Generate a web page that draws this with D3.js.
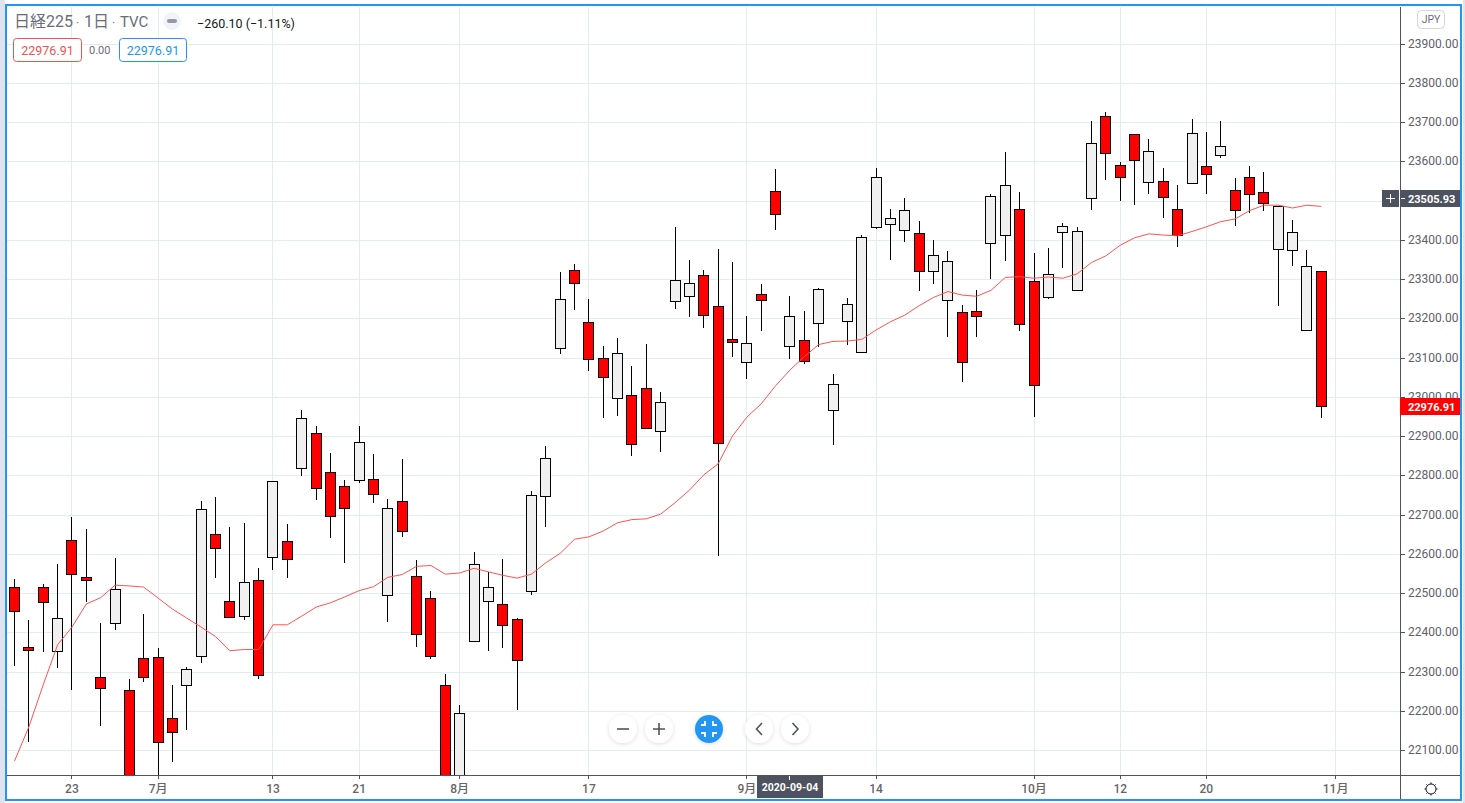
<!DOCTYPE html>
<html><head><meta charset="utf-8">
<script src="https://cdn.jsdelivr.net/npm/d3@7"></script>
<style>
html,body{margin:0;padding:0;background:#fff;overflow:hidden}
svg{display:block}
text{font-family:Roboto,"Noto Sans CJK JP",sans-serif}
</style></head><body>
<svg id="c" width="1465" height="803"></svg>
<script>
const opens=[22515,22362,22515,22351,22634,22540,22285,22423,22252,22334,
22336,22181,22265,22339,22650,22479,22441,22532,22591,22632,
22818,22907,22808,22772,22787,22790,22494,22734,22543,22487,
22265,22000,22377,22479,22471,22433,22504,22746,23124,23322,
23190,23098,22996,23004,23022,22912,23243,23256,23310,23231,
23147,23088,23261,23524,23129,23144,23187,22966,23192,23113,
23432,23440,23424,23417,23320,23246,23215,23218,23391,23412,
23478,23294,23254,23419,23271,23506,23715,23590,23669,23546,
23549,23478,23544,23587,23615,23526,23559,23521,23376,23373,
23169,23320];
const closes=[22453,22354,22476,22436,22548,22532,22257,22510,22000,22285,
22120,22145,22306,22713,22614,22438,22527,22290,22785,22586,
22945,22768,22696,22716,22884,22752,22716,22657,22395,22339,
22000,22194,22573,22515,22418,22329,22749,22843,23248,23289,
23096,23050,23111,22879,22920,22986,23297,23289,23208,22882,
23139,23136,23246,23465,23205,23090,23274,23032,23236,23406,
23559,23455,23475,23320,23361,23345,23088,23205,23511,23539,
23185,23029,23312,23434,23422,23646,23620,23559,23603,23626,
23508,23412,23671,23567,23638,23475,23516,23493,23485,23419,
23332,22976.91];
const highs=[22536,22431,22523,22574,22694,22663,22424,22589,22281,22447,
22360,22266,22312,22735,22745,22668,22678,22564,22785,22676,
22966,22926,22857,22788,22926,22854,22740,22841,22584,22505,
22294,22215,22605,22554,22587,22436,22760,22875,23318,23338,
23249,23129,23150,23078,23135,23012,23433,23349,23323,23377,
23343,23206,23287,23580,23257,23219,23277,23058,23252,23412,
23583,23478,23507,23448,23400,23372,23234,23272,23517,23624,
23522,23366,23379,23443,23433,23703,23726,23598,23669,23657,
23583,23540,23708,23675,23703,23558,23588,23573,23485,23450,
23374,23320];
const lows=[22315,22121,22350,22310,22254,22478,22162,22407,21980,22272,
21980,22070,22152,22322,22539,22438,22432,22282,22559,22537,
22799,22738,22641,22577,22779,22730,22427,22643,22363,22333,
21980,21980,22377,22353,22361,22202,22496,22669,23110,23222,
23066,22947,22952,22850,22920,22860,23224,23202,23176,22593,
23102,23046,23168,23426,23097,23084,23128,22878,23133,23113,
23428,23349,23395,23270,23288,23153,23038,23153,23301,23347,
23168,22949,23250,23329,23271,23477,23551,23500,23489,23517,
23456,23382,23544,23517,23609,23436,23469,23474,23230,23334,
23169,22947];
const maValues=[22072,22159,22266,22368,22413,22472,22488,22520,22518,22515,
22487,22459,22436,22413,22389,22353,22356,22356,22419,22419,
22441,22464,22475,22490,22506,22516,22540,22547,22568,22570,
22548,22551,22563,22554,22545,22538,22548,22577,22601,22637,
22643,22658,22679,22687,22689,22701,22730,22762,22801,22829,
22900,22948,22982,23028,23068,23102,23133,23141,23142,23146,
23170,23191,23208,23232,23253,23268,23259,23256,23271,23304,
23306,23302,23305,23302,23313,23342,23359,23386,23405,23415,
23412,23410,23421,23433,23446,23453,23474,23488,23488,23481,
23488,23485];
const priceTicks=[22100,22200,22300,22400,22500,22600,22700,22800,22900,23000,23100,23200,23300,23400,23500,23600,23700,23800,23900];
const dateTickIndex=[4,10,18,24,31,40,51,60,71,77,83,92];
const dateTickLabels=["23","7月","13","21","8月","17","9月","14","10月","12","20","11月"];
const crosshairIndex=54, crosshairDate="2020-09-04";
const lastPrice=22976.91, markPrice=23505.93;

const svg=d3.select("#c");
const W=1465,H=803,axisX=1400,axisY=775;
const y=d3.scaleLinear().domain([22100,23900]).range([750,43.5]);
const x=d3.scaleLinear().domain([0,92]).range([14.5,1335.62]);
const px=v=>Math.floor(v)+0.5;
const py=v=>Math.round(v)+0.5;

svg.append("rect").attr("width",W).attr("height",H).attr("fill","#fff");
svg.append("defs").append("clipPath").attr("id","plot").append("rect").attr("x",7).attr("y",7).attr("width",axisX-7).attr("height",axisY-7);
const shadow=svg.select("defs").append("filter").attr("id","sh").attr("x","-40%").attr("y","-40%").attr("width","180%").attr("height","180%");
shadow.append("feDropShadow").attr("dx",0).attr("dy",1).attr("stdDeviation",2).attr("flood-color","#000").attr("flood-opacity",0.14);

// grid
const grid=svg.append("g").attr("stroke","#e4ecf3").attr("stroke-width",1).attr("shape-rendering","crispEdges");
grid.selectAll(".h").data(priceTicks).join("line").attr("x1",7).attr("x2",axisX).attr("y1",d=>py(y(d))).attr("y2",d=>py(y(d)));
grid.selectAll(".v").data(dateTickIndex).join("line").attr("x1",d=>px(x(d))).attr("x2",d=>px(x(d))).attr("y1",7).attr("y2",axisY);

// candles
const plot=svg.append("g").attr("clip-path","url(#plot)");
const idx=d3.range(opens.length);
plot.append("g").attr("stroke","#000").attr("shape-rendering","crispEdges").selectAll("line").data(idx).join("line")
 .attr("x1",i=>px(x(i))).attr("x2",i=>px(x(i))).attr("y1",i=>Math.round(y(highs[i]))).attr("y2",i=>Math.round(y(lows[i])));
plot.append("g").attr("stroke","#000").attr("shape-rendering","crispEdges").selectAll("rect").data(idx).join("rect")
 .attr("x",i=>px(x(i))-5).attr("width",10)
 .attr("y",i=>py(y(Math.max(opens[i],closes[i]))))
 .attr("height",i=>Math.max(1,Math.round(Math.abs(y(opens[i])-y(closes[i])))))
 .attr("fill",i=>closes[i]>opens[i]?"#f0f0f0":"#ff0000");
plot.append("path").datum(maValues).attr("fill","none").attr("stroke","#ff5252").attr("stroke-width",1)
 .attr("d",d3.line().x((d,i)=>x(i)).y(d=>y(d)));

// axes
const ax=svg.append("g").attr("stroke","#50535e").attr("shape-rendering","crispEdges");
ax.append("line").attr("x1",7).attr("x2",1460).attr("y1",axisY+.5).attr("y2",axisY+.5);
ax.append("line").attr("x1",axisX+.5).attr("x2",axisX+.5).attr("y1",7).attr("y2",799);
ax.selectAll(".ty").data(priceTicks).join("line").attr("x1",axisX).attr("x2",axisX+5).attr("y1",d=>py(y(d))).attr("y2",d=>py(y(d)));
ax.selectAll(".tx").data(dateTickIndex).join("line").attr("x1",d=>px(x(d))).attr("x2",d=>px(x(d))).attr("y1",axisY).attr("y2",axisY+4);

svg.append("g").selectAll("text").data(priceTicks).join("text")
 .attr("x",1408).attr("y",d=>y(d)+4).attr("font-size",12).attr("fill","#5d606b").text(d=>d3.format(".2f")(d));
svg.append("g").selectAll("text").data(dateTickIndex).join("text")
 .attr("x",d=>x(d)).attr("y",793).attr("text-anchor","middle").attr("font-size",12).attr("font-weight",500).attr("fill","#666")
 .text((d,i)=>dateTickLabels[i]);

// price labels
const dark="#4c525e";
svg.append("rect").attr("x",1382).attr("y",190).attr("width",17).attr("height",17).attr("fill",dark);
svg.append("path").attr("d","M1386 198.5H1395M1390.5 194V203").attr("stroke","#fff").attr("stroke-width",1).attr("shape-rendering","crispEdges");
svg.append("rect").attr("x",axisX+1).attr("y",190).attr("width",59).attr("height",17).attr("fill",dark);
svg.append("line").attr("x1",axisX+1).attr("x2",axisX+5).attr("y1",198.5).attr("y2",198.5).attr("stroke","#fff");
svg.append("text").attr("x",1408).attr("y",203).attr("font-size",11).attr("font-weight",700).attr("fill","#fff").text(d3.format(".2f")(markPrice));
svg.append("rect").attr("x",axisX).attr("y",398).attr("width",60).attr("height",17).attr("fill","#ff0000");
svg.append("text").attr("x",1408).attr("y",410.5).attr("font-size",11).attr("font-weight",700).attr("fill","#fff").text(d3.format(".2f")(lastPrice));

// date label
svg.append("rect").attr("x",757).attr("y",776).attr("width",66).attr("height",22).attr("fill",dark);
svg.append("line").attr("x1",px(x(crosshairIndex))).attr("x2",px(x(crosshairIndex))).attr("y1",776).attr("y2",780).attr("stroke","#fff").attr("shape-rendering","crispEdges");
svg.append("text").attr("x",790).attr("y",791).attr("text-anchor","middle").attr("font-size",10.5).attr("font-weight",700).attr("fill","#fff").text(crosshairDate);

// header
const head=[["日経225",14,16],["·",76,12],["1日",84,16],["·",112,12],["TVC",120,15]];
svg.append("g").selectAll("text").data(head).join("text")
 .attr("x",d=>d[1]).attr("y",27).attr("font-size",d=>d[2]).attr("fill","#6a6d78").text(d=>d[0]);
svg.append("circle").attr("cx",172).attr("cy",21).attr("r",9).attr("fill","#f0f3fa");
svg.append("rect").attr("x",167).attr("y",19).attr("width",10).attr("height",4).attr("rx",2).attr("fill","#9598a1");
svg.append("text").attr("x",197).attr("y",28).attr("font-size",12.5).attr("fill","#131722").text("−260.10 (−1.11%)");
const box=(x0,w,col)=>{
 svg.append("rect").attr("x",x0+.5).attr("y",38.5).attr("width",w).attr("height",23).attr("rx",3).attr("fill","#fff").attr("stroke",col);
 svg.append("text").attr("x",x0+w/2+.5).attr("y",54.5).attr("text-anchor","middle").attr("font-size",12.5).attr("fill",col).text(d3.format(".2f")(lastPrice));
};
box(13,68,"#ef5350");
svg.append("text").attr("x",89).attr("y",54).attr("font-size",11).attr("fill","#6a6d78").text("0.00");
box(119,67,"#2196f3");
svg.append("rect").attr("x",1417.5).attr("y",10.5).attr("width",27).attr("height",18).attr("rx",4).attr("fill","#fff").attr("stroke","#d1d4dc");
svg.append("text").attr("x",1431).attr("y",23).attr("text-anchor","middle").attr("font-size",10.5).attr("fill","#6a6d78").text("JPY");

// buttons
const btn=(cx,fill)=>svg.append("circle").attr("cx",cx).attr("cy",729).attr("r",14).attr("fill",fill).attr("filter","url(#sh)");
[623,659,759,795].forEach(c=>btn(c,"#fff"));
btn(709,"#2196f3");
const ic=svg.append("g").attr("fill","none").attr("stroke","#50535e").attr("stroke-width",1.6);
ic.append("path").attr("d","M617 729H629");
ic.append("path").attr("d","M653 729H665M659 723V735");
ic.append("path").attr("d","M762 723L756.5 729L762 735");
ic.append("path").attr("d","M792.5 723L798 729L792.5 735");
svg.append("path").attr("fill","none").attr("stroke","#fff").attr("stroke-width",1.8)
 .attr("d","M701 725H705V721M717 725H713V721M701 733H705V737M717 733H713V737");

// gear
svg.append("circle").attr("cx",1431).attr("cy",789).attr("r",5).attr("fill","none").attr("stroke","#131722");
svg.append("path").attr("stroke","#131722").attr("d","M1431 782.5V784M1431 794V795.5M1424.5 789H1426M1436 789H1437.5M1426.4 784.4L1427.5 785.5M1434.5 792.5L1435.6 793.6M1426.4 793.6L1427.5 792.5M1434.5 785.5L1435.6 784.4");

// frame
svg.append("rect").attr("x",0).attr("y",0).attr("width",5).attr("height",H).attr("fill","#e0e3eb");
svg.append("rect").attr("x",1463).attr("y",0).attr("width",2).attr("height",H).attr("fill","#e0e3eb");
svg.append("rect").attr("x",6).attr("y",5).attr("width",1455).attr("height",795).attr("fill","none").attr("stroke","#2196f3").attr("stroke-width",2);
</script>
</body></html>
